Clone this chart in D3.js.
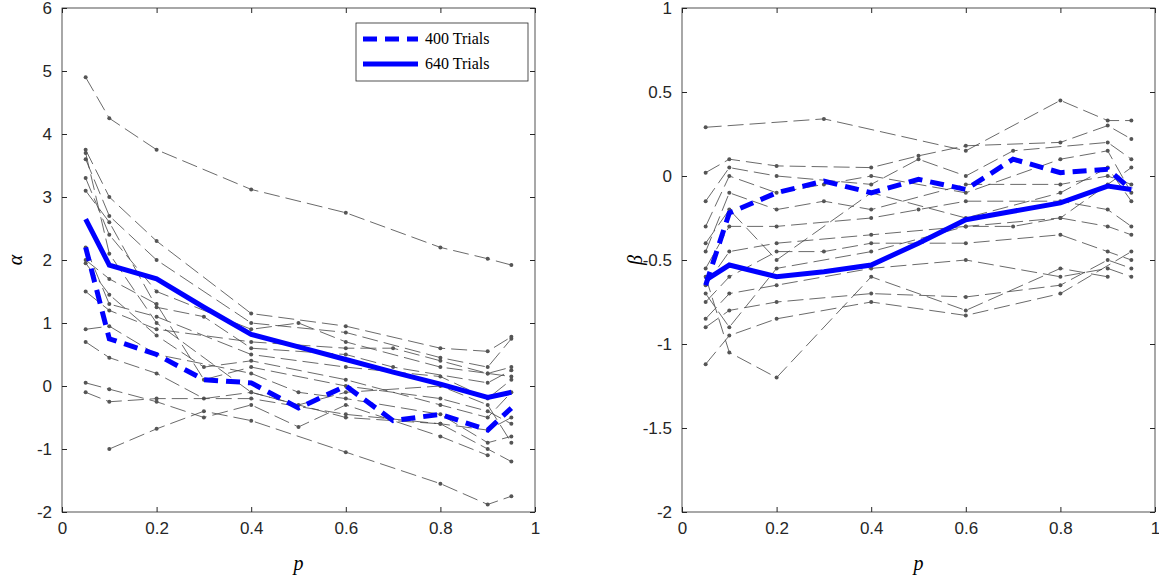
<!DOCTYPE html>
<html><head><meta charset="utf-8">
<script src="https://cdn.jsdelivr.net/npm/d3@7"></script>
<style>body{margin:0;background:#fff}svg{display:block}
.tick text{font-family:"Liberation Sans",Arial,sans-serif !important;font-size:17px}
.serif{font-family:"Liberation Serif","Times New Roman",serif}</style>
</head><body><svg id="c" width="1159" height="577"></svg>
<script>
const pVals=[0.05,0.1,0.2,0.3,0.4,0.5,0.6,0.7,0.8,0.9,0.95];
const alpha400=[2.2,0.75,0.5,0.1,0.05,-0.35,0,-0.55,-0.45,-0.7,-0.35];
const alpha640=[2.65,1.92,1.7,1.25,0.82,0.62,0.42,0.22,0.03,-0.18,-0.1];
const beta400=[-0.65,-0.22,-0.1,-0.03,-0.1,-0.02,-0.08,0.1,0.02,0.04,-0.08];
const beta640=[-0.62,-0.53,-0.6,-0.57,-0.53,-0.4,-0.26,-0.21,-0.16,-0.06,-0.08];
const alphaSubjects=[
[[.05,4.9],[.1,4.25],[.2,3.75],[.4,3.12],[.6,2.75],[.8,2.2],[.9,2.02],[.95,1.92]],
[[.05,3.75],[.1,3.0],[.2,2.3],[.4,1.15],[.6,0.95],[.8,0.6],[.9,0.55],[.95,0.78]],
[[.05,3.6],[.1,2.7],[.2,2.0],[.4,1.0],[.6,0.85],[.8,0.45],[.9,0.3],[.95,0.75]],
[[.05,3.3],[.1,2.4],[.2,1.5],[.4,0.9],[.5,1.0],[.6,0.7],[.8,0.3],[.9,0.2],[.95,0.3]],
[[.05,3.1],[.1,2.6],[.2,1.25],[.3,1.1],[.4,0.6],[.6,0.5],[.7,0.3],[.9,0.05],[.95,0.25]],
[[.05,2.2],[.1,1.3],[.2,1.1],[.4,0.5],[.6,0.3],[.8,0.15],[.9,-0.2],[.95,0.1]],
[[.05,1.95],[.1,1.45],[.2,0.8],[.3,0.3],[.4,0.4],[.6,0.1],[.8,-0.3],[.9,-0.5],[.95,-0.1]],
[[.05,0.9],[.1,0.95],[.2,0.5],[.4,0.2],[.5,-0.1],[.6,-0.2],[.8,-0.45],[.9,-0.9],[.95,-0.8]],
[[.05,0.7],[.1,0.45],[.2,0.2],[.3,-0.2],[.4,-0.1],[.6,-0.5],[.8,-0.6],[.9,-1.0],[.95,-1.2]],
[[.05,0.05],[.1,-0.05],[.2,-0.25],[.3,-0.5],[.4,-0.3],[.5,-0.65],[.6,-0.3],[.8,-0.8],[.9,-1.1]],
[[.05,-0.1],[.1,-0.25],[.2,-0.2],[.4,-0.2],[.6,-0.45],[.8,-0.6],[.9,-0.7],[.95,-0.5]],
[[.1,-1.0],[.2,-0.68],[.3,-0.4],[.4,-0.55],[.6,-1.05],[.8,-1.55],[.9,-1.88],[.95,-1.75]],
[[.05,1.5],[.1,1.2],[.2,0.9],[.4,0.7],[.6,0.6],[.7,0.6],[.8,0.4],[.9,0.2],[.95,0.15]],
[[.05,2.0],[.1,1.7],[.2,1.3],[.3,0.1],[.4,0.3],[.6,0.0],[.8,-0.2],[.9,-0.4],[.95,-0.6]],
[[.05,3.7],[.1,2.1],[.2,1.0],[.4,-0.1],[.5,-0.3],[.6,-0.1],[.8,0.0],[.9,-0.3],[.95,-0.9]]];
const betaSubjects=[
[[.05,0.29],[.3,0.34],[.6,0.15],[.8,0.45],[.9,0.33],[.95,0.33]],
[[.05,0.02],[.1,0.1],[.2,0.06],[.4,0.05],[.5,0.12],[.6,0.18],[.8,0.2],[.9,0.3],[.95,0.22]],
[[.05,-0.15],[.1,0.05],[.2,0.0],[.4,-0.05],[.5,0.1],[.6,0.0],[.7,0.15],[.9,0.2],[.95,0.1]],
[[.05,-0.3],[.1,0.0],[.2,-0.1],[.3,-0.05],[.4,0.0],[.6,-0.1],[.8,0.1],[.9,0.15],[.95,-0.1]],
[[.05,-0.45],[.1,-0.1],[.2,-0.2],[.3,-0.15],[.4,-0.2],[.6,-0.05],[.8,-0.05],[.9,0.0],[.95,-0.05]],
[[.05,-0.55],[.1,-0.3],[.2,-0.3],[.4,-0.25],[.5,-0.2],[.6,-0.15],[.8,-0.15],[.9,-0.2],[.95,-0.3]],
[[.05,-0.65],[.1,-0.45],[.2,-0.4],[.4,-0.35],[.6,-0.3],[.7,-0.3],[.8,-0.25],[.9,-0.3],[.95,-0.35]],
[[.05,-0.75],[.1,-0.6],[.2,-0.45],[.3,-0.45],[.4,-0.4],[.6,-0.4],[.8,-0.35],[.9,-0.45],[.95,-0.5]],
[[.05,-0.85],[.1,-0.7],[.2,-0.65],[.4,-0.55],[.6,-0.5],[.8,-0.6],[.9,-0.55],[.95,-0.6]],
[[.05,-0.9],[.1,-0.8],[.2,-0.75],[.4,-0.7],[.6,-0.72],[.8,-0.65],[.9,-0.5],[.95,-0.55]],
[[.05,-1.12],[.1,-0.95],[.2,-0.85],[.4,-0.75],[.6,-0.83],[.8,-0.7],[.95,-0.45]],
[[.05,-0.6],[.1,-1.05],[.2,-1.2],[.4,-0.6],[.6,-0.8],[.8,-0.55],[.9,-0.6]],
[[.05,-0.7],[.1,-0.9],[.2,-0.55],[.4,-0.45],[.6,-0.3],[.8,-0.25],[.9,-0.05],[.95,0.05]],
[[.05,-0.4],[.1,-0.2],[.2,-0.5],[.4,-0.1],[.6,-0.25],[.8,-0.1],[.9,0.05],[.95,-0.15]]];
const xTicks=[0,0.2,0.4,0.6,0.8,1];
const alphaTicks=[-2,-1,0,1,2,3,4,5,6];
const betaTicks=[-2,-1.5,-1,-0.5,0,0.5,1];
const legendLabels=["400 Trials","640 Trials"];

const svg=d3.select("#c");
const fmt=d=>String(d);
function panel(x0,x1,ydom,yt,ylab,subs,d400,d640,legend){
  const x=d3.scaleLinear().domain([0,1]).range([x0,x1]);
  const y=d3.scaleLinear().domain(ydom).range([512,8]);
  const g=svg.append("g");
  const line=d3.line().x(d=>x(d[0])).y(d=>y(d[1]));
  subs.forEach(s=>{
    g.append("path").attr("d",line(s)).attr("fill","none").attr("stroke","#444").attr("stroke-width",0.8).attr("stroke-dasharray","16,6");
    g.selectAll(null).data(s).enter().append("circle").attr("cx",d=>x(d[0])).attr("cy",d=>y(d[1])).attr("r",2).attr("fill","#555");
  });
  g.append("path").attr("d",line(pVals.map((p,i)=>[p,d400[i]]))).attr("fill","none").attr("stroke","#0000ff").attr("stroke-width",5).attr("stroke-dasharray","14,8");
  g.append("path").attr("d",line(pVals.map((p,i)=>[p,d640[i]]))).attr("fill","none").attr("stroke","#0000ff").attr("stroke-width",5);
  g.append("rect").attr("x",x0).attr("y",8).attr("width",x1-x0).attr("height",504).attr("fill","none").attr("stroke","#262626").attr("stroke-width",0.8);
  g.append("g").attr("transform","translate(0,512)").call(d3.axisBottom(x).tickValues(xTicks).tickSize(-5).tickPadding(10).tickFormat(fmt));
  g.append("g").attr("transform",`translate(${x0},0)`).call(d3.axisLeft(y).tickValues(yt).tickSize(-5).tickPadding(10).tickFormat(fmt));
  g.append("g").attr("transform","translate(0,8)").call(d3.axisTop(x).tickValues(xTicks).tickSize(-5).tickFormat(""));
  g.append("g").attr("transform",`translate(${x1},0)`).call(d3.axisRight(y).tickValues(yt).tickSize(-5).tickFormat(""));
  g.selectAll(".domain").remove();
  g.selectAll(".tick line").attr("stroke","#262626");
  g.selectAll(".tick text").attr("fill","#262626");
  g.append("text").attr("class","serif").attr("x",(x0+x1)/2).attr("y",570).attr("text-anchor","middle").attr("font-style","italic").attr("font-size",20).text("p");
  g.append("text").attr("class","serif").attr("transform",`translate(${x0-40},260) rotate(-90)`).attr("text-anchor","middle").attr("font-style","italic").attr("font-size",20).text(ylab);
  if(legend){
    const lg=g.append("g");
    lg.append("rect").attr("x",356).attr("y",23).attr("width",172).attr("height",58).attr("fill","#fff").attr("stroke","#262626").attr("stroke-width",0.8);
    legendLabels.forEach((t,i)=>{
      const yy=39+i*25;
      lg.append("line").attr("x1",363).attr("x2",418).attr("y1",yy).attr("y2",yy).attr("stroke","#0000ff").attr("stroke-width",5).attr("stroke-dasharray",i?null:"14,8");
      lg.append("text").attr("class","serif").attr("x",425).attr("y",yy+5).attr("font-size",16).text(t);
    });
  }
}
panel(62,535,[-2,6],alphaTicks,"α",alphaSubjects,alpha400,alpha640,true);
panel(682,1155,[-2,1],betaTicks,"β",betaSubjects,beta400,beta640,false);
</script></body></html>
